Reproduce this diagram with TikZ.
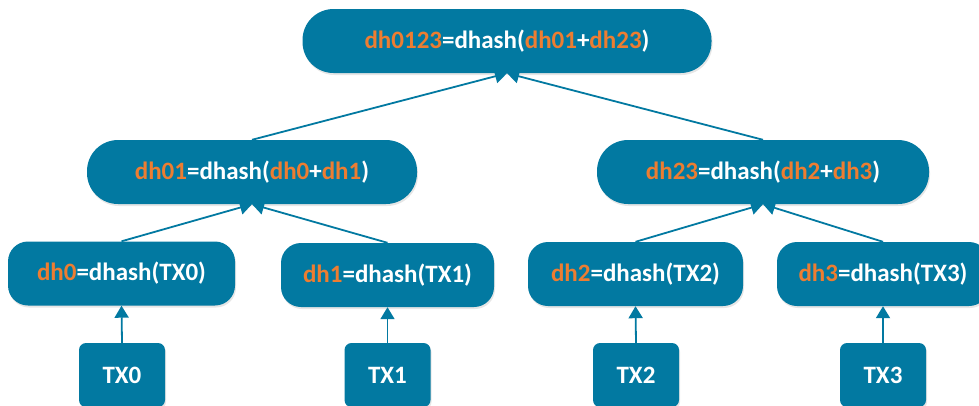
\documentclass[tikz,border=0pt]{standalone}
\usepackage{fontspec}
\setmainfont{Carlito}
\usetikzlibrary{arrows.meta,shadows}
\definecolor{hashblue}{RGB}{2,121,161}
\definecolor{hashorange}{RGB}{237,125,49}
\newcommand{\orng}[1]{\textcolor{hashorange}{#1}}

\tikzstyle{box} = [rectangle, fill=hashblue, text=white, inner sep=0pt,
	font=\fontsize{25}{30}\selectfont\bfseries,
	drop shadow={shadow xshift=1pt, shadow yshift=-2pt, opacity=0.2}]
\tikzstyle{pill} = [box, rounded corners=31pt, minimum height=64pt]
\tikzstyle{leaf} = [box, rounded corners=20pt, minimum height=64pt]
\tikzstyle{tx} = [box, rounded corners=7pt, minimum width=86pt, minimum height=64pt]
\tikzset{link/.style={draw=hashblue, line width=1.8pt,
	-{Triangle[width=14pt,length=12pt,fill=hashblue]}}}

\begin{document}
\begin{tikzpicture}[x=1pt,y=-1pt]
\useasboundingbox (0,0) rectangle (979,405);

\node [pill, minimum width=409pt] (root) at (507,41)
	{\orng{dh0123}=dhash(\orng{dh01}+\orng{dh23})};

\node [pill, minimum width=330pt] (dh01) at (252,172)
	{\orng{dh01}=dhash(\orng{dh0}+\orng{dh1})};
\node [pill, minimum width=332pt] (dh23) at (763,172)
	{\orng{dh23}=dhash(\orng{dh2}+\orng{dh3})};

\node [leaf, minimum width=227pt] (dh0) at (121.5,273.5) {\orng{dh0}=dhash(TX0)};
\node [leaf, minimum width=213pt] (dh1) at (387.5,275) {\orng{dh1}=dhash(TX1)};
\node [leaf, minimum width=215pt] (dh2) at (635.5,274) {\orng{dh2}=dhash(TX2)};
\node [leaf, minimum width=212pt] (dh3) at (883,274) {\orng{dh3}=dhash(TX3)};

\node [tx] (tx0) at (122,375) {TX0};
\node [tx] (tx1) at (387.5,375) {TX1};
\node [tx] (tx2) at (636,375) {TX2};
\node [tx] (tx3) at (883,375) {TX3};

\draw [link] (dh01.north) -- (root.south);
\draw [link] (dh23.north) -- (root.south);
\draw [link] (dh0.north) -- (dh01.south);
\draw [link] (dh1.north) -- (dh01.south);
\draw [link] (dh2.north) -- (dh23.south);
\draw [link] (dh3.north) -- (dh23.south);
\draw [link] (tx0.north) -- (dh0.south);
\draw [link] (tx1.north) -- (dh1.south);
\draw [link] (tx2.north) -- (dh2.south);
\draw [link] (tx3.north) -- (dh3.south);
\end{tikzpicture}
\end{document}
